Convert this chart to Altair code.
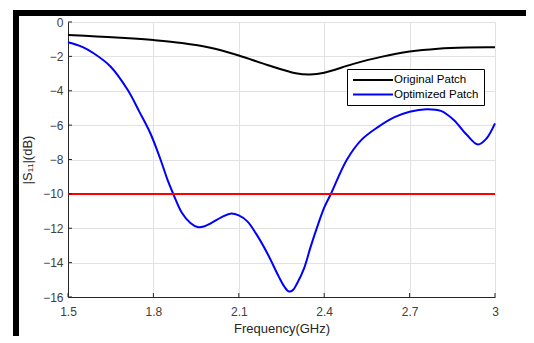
import altair as alt
import pandas as pd

# ---- data ----
freq_orig = [1.5, 1.6, 1.7, 1.8, 1.9, 2.0, 2.1, 2.2, 2.3, 2.35, 2.4, 2.5, 2.6, 2.7, 2.8, 2.9, 3.0]
s11_orig = [-0.75, -0.84, -0.93, -1.05, -1.22, -1.5, -1.95, -2.5, -2.98, -3.05, -2.95, -2.45, -2.03, -1.72, -1.55, -1.48, -1.47]

freq_opt = [1.5, 1.55, 1.59, 1.65, 1.71, 1.75, 1.79, 1.825, 1.85, 1.871, 1.9, 1.93, 1.955, 1.98,
            2.0, 2.04, 2.07, 2.1, 2.13, 2.16, 2.2, 2.24, 2.26, 2.276, 2.29, 2.305, 2.33, 2.352,
            2.38, 2.4, 2.422, 2.48, 2.53, 2.59, 2.645, 2.7, 2.76, 2.81, 2.856, 2.9, 2.94, 2.97, 3.0]
s11_opt = [-1.18, -1.45, -1.82, -2.6, -3.96, -5.2, -6.5, -8.0, -9.2, -10.05, -11.1, -11.7, -11.93, -11.88,
           -11.73, -11.35, -11.15, -11.25, -11.6, -12.3, -13.45, -14.8, -15.4, -15.68, -15.6, -15.2, -14.3, -13.1,
           -11.7, -10.8, -10.05, -8.0, -6.87, -6.1, -5.55, -5.22, -5.07, -5.17, -5.71, -6.55, -7.13, -6.78, -5.9]

series_names = ["Original Patch", "Optimized Patch"]
series_colors = ["#000000", "#0000ff"]

threshold_freq = [1.5, 3.0]
threshold_val = [-10, -10]

x_ticks = [1.5, 1.8, 2.1, 2.4, 2.7, 3.0]
y_ticks = [-16, -14, -12, -10, -8, -6, -4, -2, 0]

W, H = 427, 275
FONT = "Liberation Sans"

df = pd.concat([
    pd.DataFrame({"f": freq_orig, "s": s11_orig, "series": series_names[0]}),
    pd.DataFrame({"f": freq_opt, "s": s11_opt, "series": series_names[1]}),
])
df_thr = pd.DataFrame({"f": threshold_freq, "s": threshold_val})
df_xt = pd.DataFrame({"t": x_ticks})
df_yt = pd.DataFrame({"t": y_ticks})

xscale = alt.Scale(domain=[1.5, 3.0], nice=False, zero=False)
yscale = alt.Scale(domain=[-16, 0], nice=False, zero=False)

xaxis = alt.Axis(values=x_ticks, labelExpr="datum.value == 3 ? '3' : format(datum.value, '.1f')",
                 title="Frequency(GHz)", ticks=False, labelPadding=9, titlePadding=5,
                 labelFlush=False, labelOverlap=False)
yaxis = alt.Axis(values=y_ticks, format="d", title="|S₁₁|(dB)", ticks=False,
                 labelPadding=5, titlePadding=8, labelFlush=False, labelOverlap=False)

lines = alt.Chart(df).mark_line(strokeWidth=2, interpolate="catmull-rom").encode(
    x=alt.X("f:Q", scale=xscale, axis=xaxis),
    y=alt.Y("s:Q", scale=yscale, axis=yaxis),
    color=alt.Color("series:N", scale=alt.Scale(domain=series_names, range=series_colors),
                    sort=series_names,
                    legend=alt.Legend(title=None, orient="none", legendX=279, legendY=47,
                                      symbolType="M-1,0H7", symbolSize=100, symbolStrokeWidth=2,
                                      strokeColor="#000000", fillColor="#ffffff", padding=5,
                                      labelFontSize=11.5, labelFont=FONT, labelColor="#000000",
                                      rowPadding=2.5, labelOffset=30)),
    detail="series:N",
)

thr = alt.Chart(df_thr).mark_line(color="#ff0000", strokeWidth=2).encode(
    x=alt.X("f:Q", scale=xscale, axis=xaxis), y=alt.Y("s:Q", scale=yscale, axis=yaxis))

xt = alt.Chart(df_xt).mark_rule(color="#262626", strokeWidth=1).encode(
    x=alt.X("t:Q", scale=xscale, axis=xaxis), y=alt.value(H), y2=alt.value(H - 4))
yt = alt.Chart(df_yt).mark_rule(color="#262626", strokeWidth=1).encode(
    y=alt.Y("t:Q", scale=yscale, axis=yaxis), x=alt.value(0), x2=alt.value(4))

# black frame of the original figure (top and left edges)
frame_top = alt.Chart(df_xt).mark_rule(color="#000000", strokeWidth=6).encode(
    x=alt.value(-55), x2=alt.value(480), y=alt.value(-9))
frame_left = alt.Chart(df_xt).mark_rule(color="#000000", strokeWidth=6).encode(
    x=alt.value(-52), y=alt.value(-12), y2=alt.value(330))

chart = alt.layer(lines, thr, xt, yt, frame_top, frame_left).properties(
    width=W, height=H,
    autosize=alt.AutoSizeParams(type="none"),
    padding={"left": 60, "top": 14, "right": 31, "bottom": 39},
).configure_view(stroke=None).configure_axis(
    grid=True, gridColor="#e2e2e2", gridWidth=1,
    domainColor="#262626", domainWidth=1,
    labelFont=FONT, labelFontSize=12, labelColor="#404040",
    titleFont=FONT, titleFontSize=13, titleColor="#262626", titleFontWeight="normal",
)

chart.save("out.html", embed_options={"renderer": "svg", "actions": False})
